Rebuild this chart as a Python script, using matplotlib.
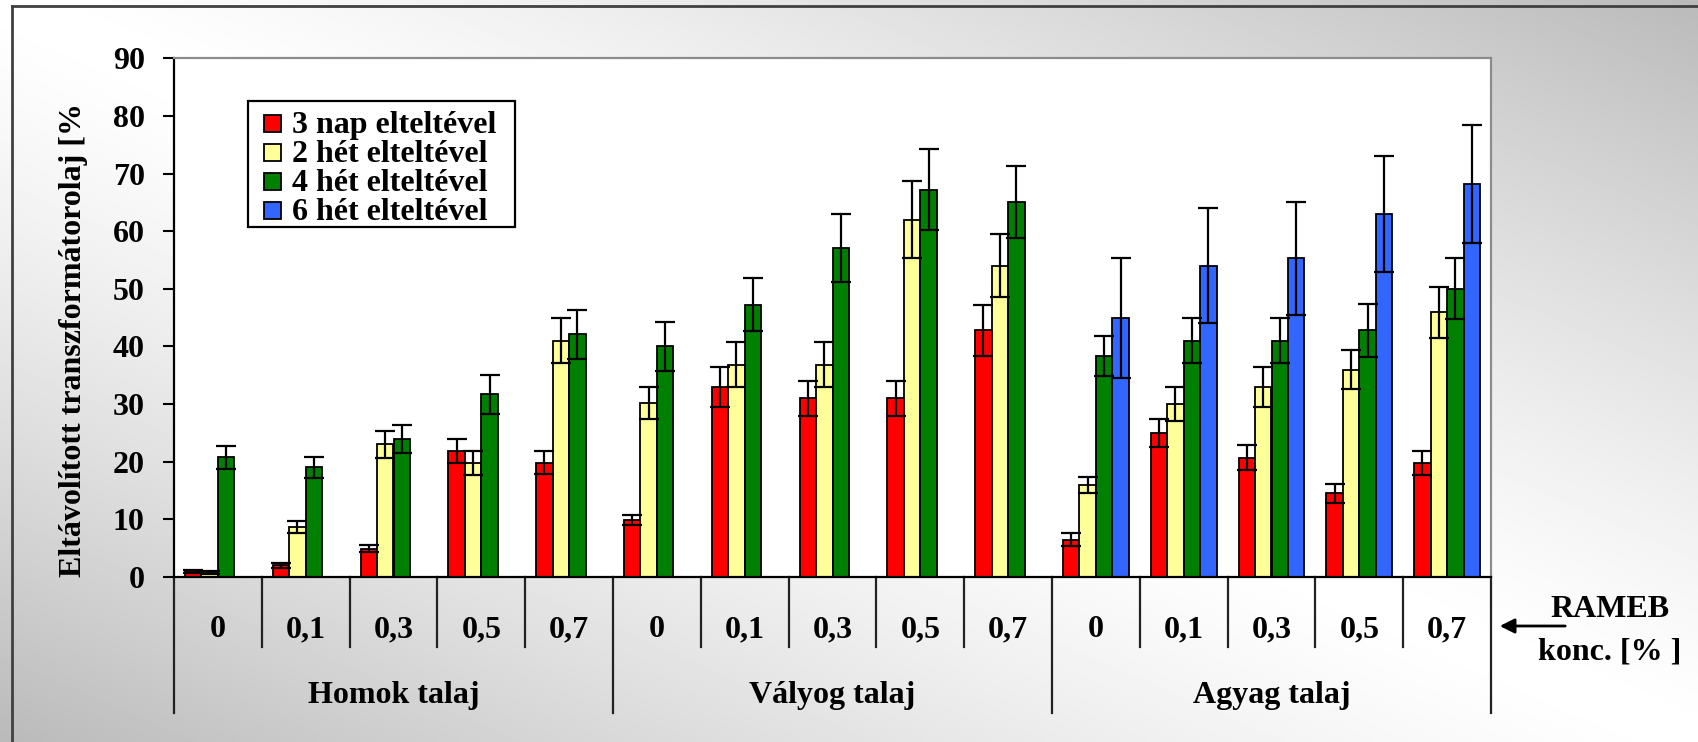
import numpy as np
import matplotlib
matplotlib.use("Agg")
import matplotlib.pyplot as plt
from matplotlib.patches import Rectangle
from matplotlib.lines import Line2D
from matplotlib.transforms import Bbox, TransformedBbox

nan = np.nan

# data
soils = ["Homok talaj", "Vályog talaj", "Agyag talaj"]
conc = ["0", "0,1", "0,3", "0,5", "0,7"]
series = ["3 nap elteltével", "2 hét elteltével", "4 hét elteltével", "6 hét elteltével"]
colors = ["#ff0000", "#ffff99", "#008000", "#3366ff"]

nap3 = [1.0, 2.0, 4.9, 21.9, 19.8, 9.9, 33.0, 31.0, 31.0, 42.8, 6.5, 25.0, 20.7, 14.5, 19.8]
het2 = [0.8, 8.7, 23.0, 19.8, 41.0, 30.2, 36.8, 36.8, 62.0, 54.0, 15.9, 30.0, 33.0, 36.0, 45.9]
het4 = [20.8, 19.0, 24.0, 31.7, 42.1, 40.0, 47.2, 57.1, 67.2, 65.1, 38.3, 41.0, 41.0, 42.8, 50.0]
het6 = [nan, nan, nan, nan, nan, nan, nan, nan, nan, nan, 44.9, 54.0, 55.3, 63.0, 68.2]

err3 = [0.3, 0.5, 0.6, 2.1, 2.0, 0.8, 3.5, 3.0, 3.0, 4.4, 1.1, 2.5, 2.2, 1.7, 2.1]
err2 = [0.3, 1.0, 2.3, 2.1, 3.9, 2.8, 3.9, 3.9, 6.7, 5.5, 1.4, 2.9, 3.5, 3.4, 4.5]
err4 = [2.0, 1.9, 2.4, 3.4, 4.2, 4.2, 4.6, 5.9, 7.0, 6.2, 3.5, 3.9, 3.9, 4.6, 5.3]
err6 = [nan, nan, nan, nan, nan, nan, nan, nan, nan, nan, 10.4, 10.0, 9.8, 10.1, 10.2]

values = [nap3, het2, het4, het6]
errors = [err3, err2, err4, err6]

plt.rcParams['font.family'] = ['Liberation Serif', 'DejaVu Serif']
plt.rcParams['font.weight'] = 'bold'

W, H = 1698, 742
fig = plt.figure(figsize=(W / 100, H / 100), dpi=100)


def fx(x):
    return x / W


def fy(y):
    return 1 - y / H


# gradient background
bg = fig.add_axes([0, 0, 1, 1], zorder=-10)
yy, xx = np.mgrid[0:1:300j, 0:1:600j]
shade = 1 - 0.27 * np.abs(xx - yy) ** 1.3
bg.imshow(shade, cmap='gray', vmin=0, vmax=1, extent=[0, 1, 0, 1], aspect='auto', origin='upper')
bg.axis('off')

# frame lines (left and top)
fig.add_artist(Line2D([fx(12), fx(12)], [0, fy(6)], color='#404040', lw=2))
fig.add_artist(Line2D([fx(12), 1], [fy(6), fy(6)], color='#404040', lw=2))

# main plot
ax = fig.add_axes([fx(174), fy(577), (1491 - 174) / W, (577 - 58.3) / H])
ax.set_facecolor('white')
n = len(nap3)
x = np.arange(n) + 0.5
w = 0.187
for j in range(4):
    xs = x + (j - 1.5) * w
    ax.bar(xs, values[j], w, color=colors[j], edgecolor='black', linewidth=1.3, zorder=2)
    ax.errorbar(xs, values[j], yerr=errors[j], fmt='none', ecolor='black',
                elinewidth=1.6, capsize=7, capthick=1.6, zorder=3)

ax.set_xlim(0, n)
ax.set_ylim(0, 90)
ax.set_xticks([])
ax.set_yticks(range(0, 100, 10))
ax.tick_params(axis='y', direction='out', length=8, width=1.5, pad=13, labelsize=23)
for s in ['left', 'bottom']:
    ax.spines[s].set_color('black')
    ax.spines[s].set_linewidth(1.6)
for s in ['top', 'right']:
    ax.spines[s].set_color('#8c8c8c')
    ax.spines[s].set_linewidth(1.6)

# category table below the axis
trans = ax.get_xaxis_transform()
ph = 577 - 58.3
for k in range(n + 1):
    bottom = -(713 - 577) / ph if k % 5 == 0 else -(647 - 577) / ph
    ax.plot([k, k], [0, bottom], color='#222222', lw=1.6, transform=trans, clip_on=False)
for i in range(n):
    ax.text(i + 0.5, -(637 - 577) / ph, conc[i % 5], transform=trans,
            ha='center', va='baseline', fontsize=23)
for g, name in enumerate(soils):
    ax.text(5 * g + 2.5, -(703 - 577) / ph, name, transform=trans,
            ha='center', va='baseline', fontsize=23)

# axis title, clipped at the top like the original
yl = fig.text(fx(81), fy(577), "Eltávolított transzformátorolaj [%]", rotation=90,
              rotation_mode='anchor', ha='left', va='baseline', fontsize=23)
yl.set_clip_box(TransformedBbox(Bbox([[0, 0], [0.2, fy(105)]]), fig.transFigure))
yl.set_clip_on(True)

# RAMEB note with arrow
fig.text(fx(1610), fy(617), "RAMEB", ha='center', va='baseline', fontsize=23)
fig.text(fx(1610), fy(659), "konc. [% ]", ha='center', va='baseline', fontsize=23)
fig.add_artist(matplotlib.patches.FancyArrowPatch((fx(1568), fy(626)), (fx(1497), fy(626)),
                                                  transform=fig.transFigure, arrowstyle='-|>',
                                                  mutation_scale=22, lw=2, color='black'))

# legend
fig.add_artist(Rectangle((fx(248), fy(227)), (515 - 248) / W, (227 - 101) / H,
                         transform=fig.transFigure, facecolor='white', edgecolor='black', lw=1.6))
for j in range(4):
    cy = 123 + j * 29.3
    fig.add_artist(Rectangle((fx(264), fy(cy + 8.5)), 17 / W, 17 / H, transform=fig.transFigure,
                             facecolor=colors[j], edgecolor='black', lw=1.3))
    fig.text(fx(292), fy(cy + 9.5), series[j], ha='left', va='baseline', fontsize=23)

fig.savefig("out.png", dpi=100)
